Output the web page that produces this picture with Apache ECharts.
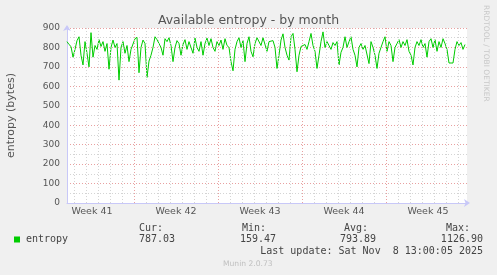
<!DOCTYPE html>
<html>
<head>
<meta charset="utf-8">
<script src="https://cdn.jsdelivr.net/npm/echarts@6/dist/echarts.min.js"></script>
<style>
html,body{margin:0;padding:0;background:#f0f0f0;}
#c{width:497px;height:275px;}
</style>
</head>
<body>
<div id="c"></div>
<script>
// ---- data ----
const weekLabels = ['Week 41', 'Week 42', 'Week 43', 'Week 44', 'Week 45'];
const weekCenters = [-3.5, 3.5, 10.5, 17.5, 24.5];   // days, relative to Monday of week 42
const weekStarts = [0, 7, 14, 21];
const dayLines = [-5,-4,-3,-2,-1,0,1,2,3,4,5,6,7,8,9,10,11,12,13,14,15,16,17,18,19,20,21,22,23,24,25,26,27];
const xMin = -5.5833, xMax = 27.75;
const startDay = -5.5833, stepDay = 1 / 6;   // 4-hour samples
const entropy = [
  830,815,805,750,790,835,855,760,710,830,
  770,700,876,750,810,790,840,805,830,780,
  820,688,800,838,800,820,632,800,830,770,
  810,727,790,800,845,852,670,800,838,820,
  646,730,760,800,855,840,850,800,760,845,
  830,850,810,727,800,835,820,760,815,840,
  790,830,800,770,848,800,780,830,760,820,
  848,810,845,800,780,830,810,838,790,845,
  810,800,727,680,790,830,850,800,835,727,
  820,855,780,752,820,850,845,810,850,840,
  780,830,820,835,800,692,760,838,870,800,
  760,735,855,872,790,675,760,805,800,815,
  790,830,872,810,780,692,760,830,880,800,
  830,810,790,825,810,830,710,775,800,855,
  800,830,855,790,760,700,800,820,790,810,
  800,717,830,800,760,692,770,800,830,855,
  780,830,810,727,800,820,840,800,830,810,
  840,780,760,710,800,830,810,840,800,820,
  750,830,845,800,840,780,830,800,845,820,
  790,720,718,720,790,830,810,825,790,815
];
const statHeaders = ['Cur:', 'Min:', 'Avg:', 'Max:'];
const statValues = ['787.03', '159.47', '793.89', '1126.90'];
const seriesName = 'entropy';
const lastUpdate = 'Last update: Sat Nov  8 13:00:05 2025';

const points = entropy.map((v, i) => [startDay + i * stepDay, v]);

const chart = echarts.init(document.getElementById('c'), null, {renderer: 'canvas'});
const mono = '"DejaVu Sans Mono", monospace';
const sans = '"DejaVu Sans", sans-serif';

chart.setOption({
  backgroundColor: '#f0f0f0',
  animation: false,
  title: {
    text: 'Available entropy - by month',
    left: 'center', top: 9,
    textStyle: {fontFamily: sans, fontSize: 12.5, fontWeight: 'normal', color: '#555'}
  },
  grid: {left: 67, top: 28, width: 400, height: 175, show: true, backgroundColor: '#fff', borderWidth: 0,
    containLabel: false, outerBoundsMode: 'none'},
  xAxis: {
    type: 'value', min: xMin, max: xMax,
    axisLine: {show: true, onZero: false, lineStyle: {color: '#c8c8f8', width: 1}, symbol: ['none', 'arrow'], symbolSize: [6, 6], symbolOffset: [0, 3]},
    axisTick: {show: false},
    splitLine: {show: false},
    axisLabel: {
      customValues: weekCenters,
      formatter: (v) => weekLabels[weekCenters.indexOf(v)] || '',
      fontFamily: sans, fontSize: 9.5, color: '#555', margin: 4
    }
  },
  yAxis: {
    type: 'value', min: 0, max: 900, interval: 100,
    name: 'entropy (bytes)', nameLocation: 'middle', nameGap: 50, nameRotate: 90,
    nameTextStyle: {fontFamily: sans, fontSize: 11, color: '#555'},
    axisLine: {show: true, onZero: false, lineStyle: {color: '#c8c8f8', width: 1}, symbol: ['none', 'arrow'], symbolSize: [6, 6], symbolOffset: [0, 3]},
    axisTick: {show: false},
    axisLabel: {fontFamily: sans, fontSize: 9, color: '#555', margin: 7},
    splitLine: {show: true, lineStyle: {color: '#e8a0a0', type: [1, 2], width: 1}},
    minorTick: {show: false, splitNumber: 2},
    minorSplitLine: {show: true, lineStyle: {color: '#d4d4d4', type: [1, 2], width: 1}}
  },
  series: [
    {
      type: 'line', data: [], z: 1, silent: true,
      markLine: {
        silent: true, symbol: 'none', animation: false,
        label: {show: false},
        data: dayLines.map(d => ({xAxis: d, lineStyle: {color: '#d4d4d4', type: [1, 2], width: 1}}))
          .concat(weekStarts.map(d => ({xAxis: d, lineStyle: {color: '#e8a0a0', type: [1, 2], width: 1}})))
      }
    },
    {
      name: seriesName, type: 'line', data: points, z: 3,
      showSymbol: false, symbol: 'none',
      lineStyle: {color: '#00cc00', width: 1},
      itemStyle: {color: '#00cc00'}
    }
  ],
  graphic: [
    {type: 'text', x: 486, y: 5, rotation: -Math.PI / 2,
      style: {text: 'RRDTOOL / TOBI OETIKER', font: '7.5px ' + sans, fill: '#c8c8c8', textAlign: 'left', textVerticalAlign: 'middle'}},
    {type: 'rect', shape: {x: 14, y: 236.5, width: 6, height: 6}, style: {fill: '#00cc00'}},
    {type: 'text', x: 26, y: 239.5, style: {text: seriesName, font: '10px ' + mono, fill: '#444', textAlign: 'left', textVerticalAlign: 'middle'}},
    {type: 'text', x: 163, y: 228, style: {text: statHeaders[0], font: '10px ' + mono, fill: '#444', textAlign: 'right', textVerticalAlign: 'middle'}},
    {type: 'text', x: 266, y: 228, style: {text: statHeaders[1], font: '10px ' + mono, fill: '#444', textAlign: 'right', textVerticalAlign: 'middle'}},
    {type: 'text', x: 368, y: 228, style: {text: statHeaders[2], font: '10px ' + mono, fill: '#444', textAlign: 'right', textVerticalAlign: 'middle'}},
    {type: 'text', x: 470, y: 228, style: {text: statHeaders[3], font: '10px ' + mono, fill: '#444', textAlign: 'right', textVerticalAlign: 'middle'}},
    {type: 'text', x: 175, y: 239.5, style: {text: statValues[0], font: '10px ' + mono, fill: '#444', textAlign: 'right', textVerticalAlign: 'middle'}},
    {type: 'text', x: 276, y: 239.5, style: {text: statValues[1], font: '10px ' + mono, fill: '#444', textAlign: 'right', textVerticalAlign: 'middle'}},
    {type: 'text', x: 376, y: 239.5, style: {text: statValues[2], font: '10px ' + mono, fill: '#444', textAlign: 'right', textVerticalAlign: 'middle'}},
    {type: 'text', x: 483, y: 239.5, style: {text: statValues[3], font: '10px ' + mono, fill: '#444', textAlign: 'right', textVerticalAlign: 'middle'}},
    {type: 'text', x: 483, y: 251, style: {text: lastUpdate, font: '10px ' + mono, fill: '#444', textAlign: 'right', textVerticalAlign: 'middle'}},
    {type: 'text', x: 223, y: 264.5, style: {text: 'Munin 2.0.73', font: '7.6px ' + sans, fill: '#c0c0c0', textAlign: 'left', textVerticalAlign: 'middle'}}
  ]
});
</script>
</body>
</html>
